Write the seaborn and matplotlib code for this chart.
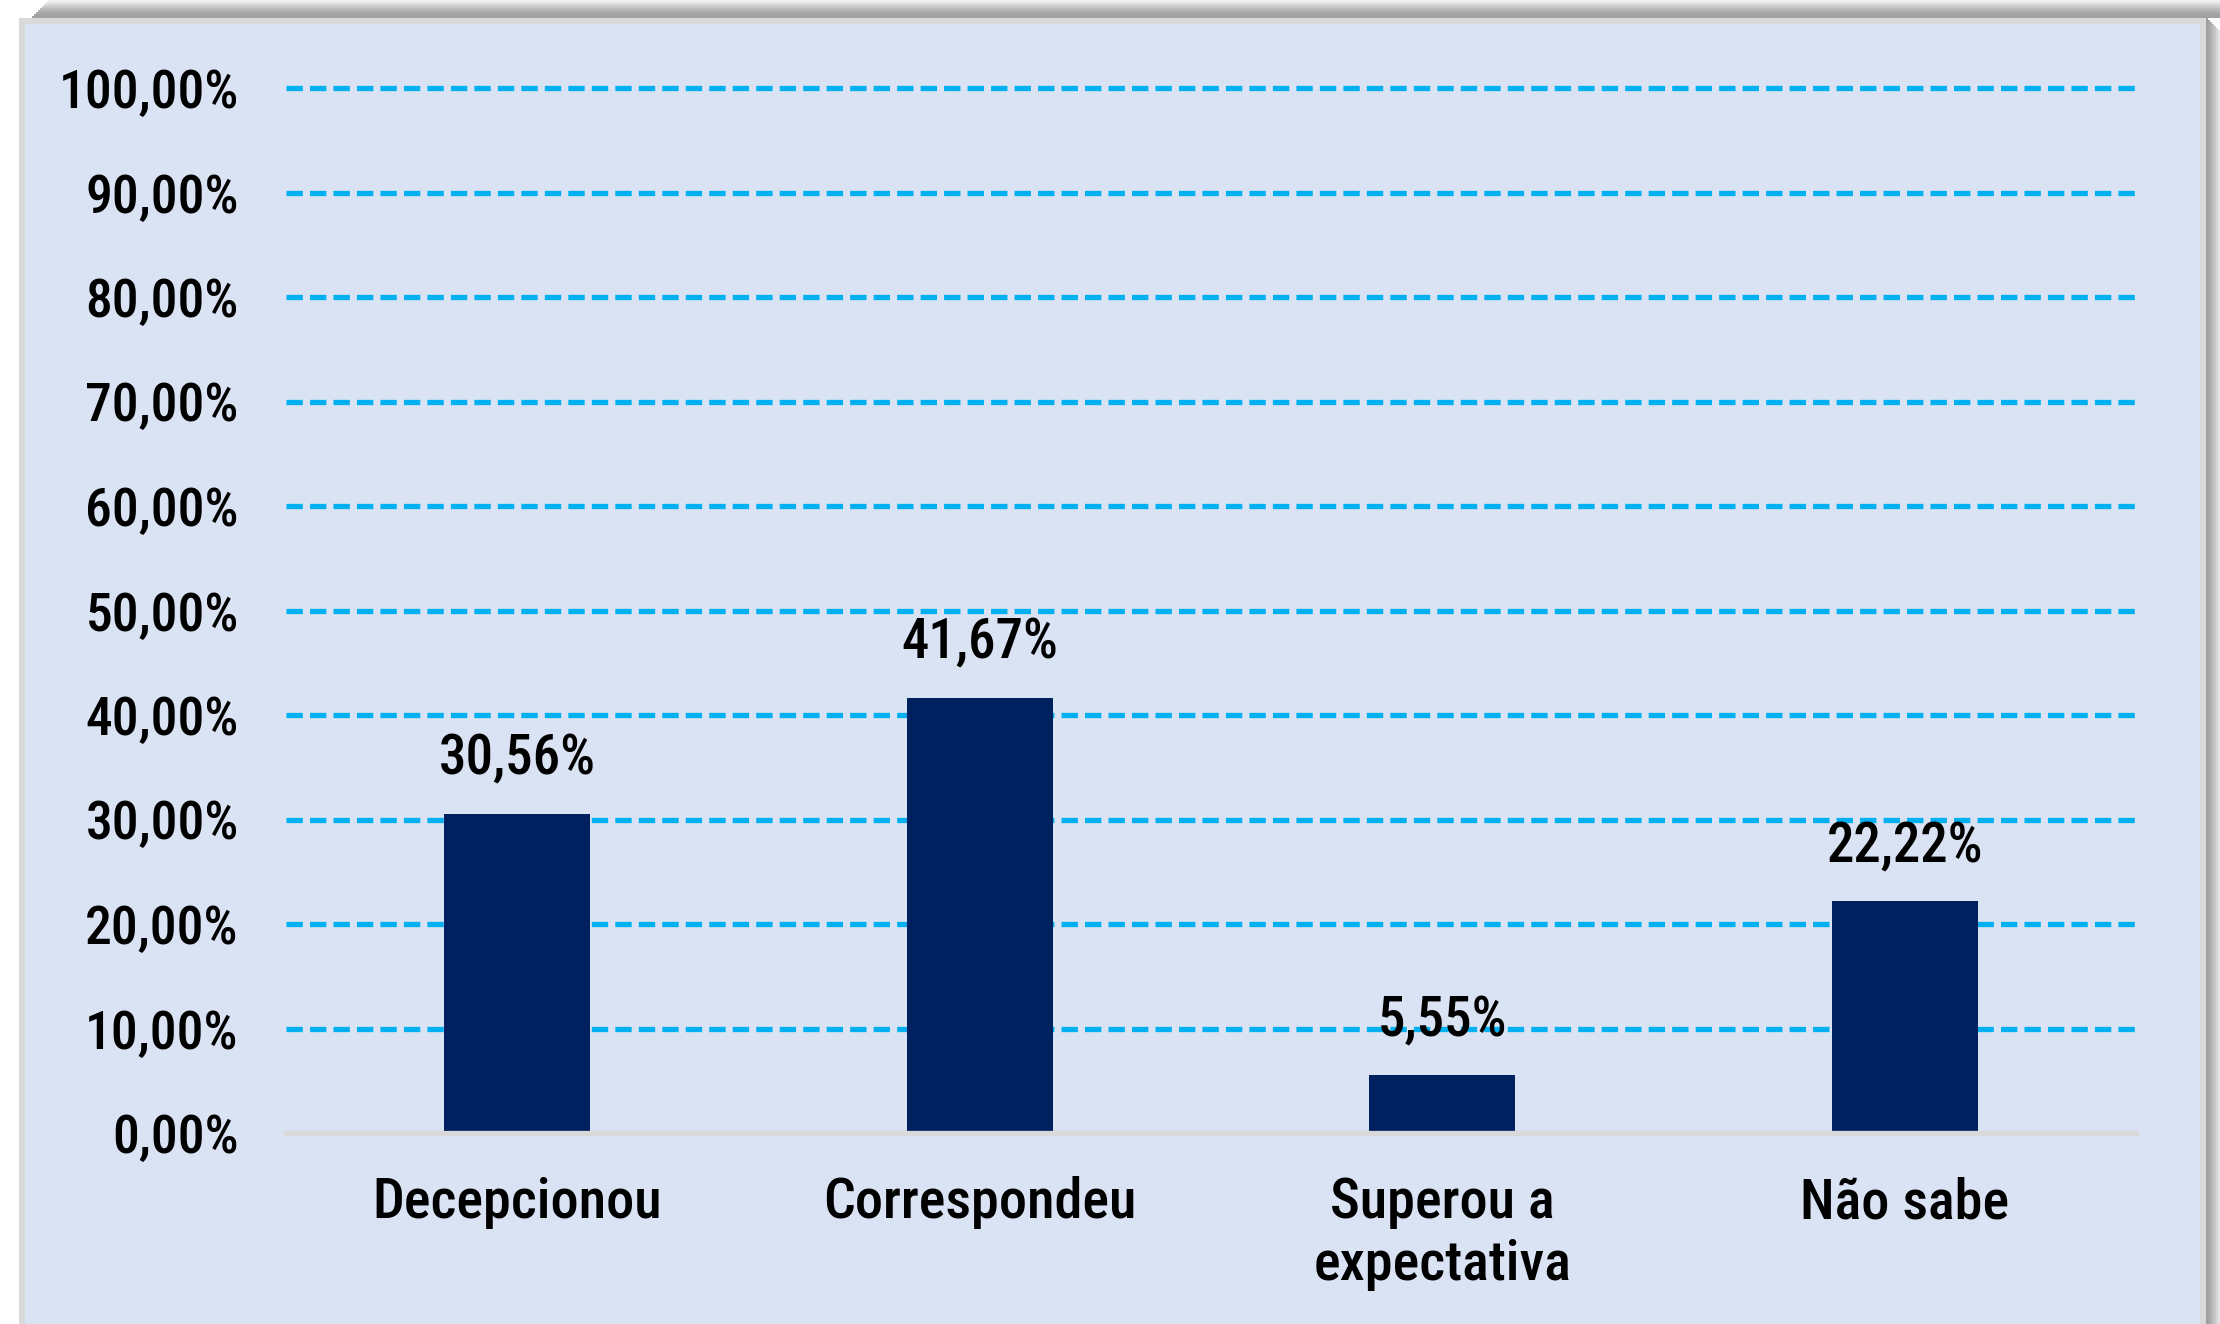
import numpy as np
import pandas as pd
import matplotlib
matplotlib.use("Agg")
import matplotlib.pyplot as plt
from matplotlib.patches import Rectangle
from matplotlib import font_manager as fm
import seaborn as sns

categories = ["Decepcionou", "Correspondeu", "Superou a\nexpectativa", "Não sabe"]
values = [30.56, 41.67, 5.55, 22.22]
value_labels = ["30,56%", "41,67%", "5,55%", "22,22%"]
ytick_values = [0, 10, 20, 30, 40, 50, 60, 70, 80, 90, 100]
ytick_labels = ["0,00%", "10,00%", "20,00%", "30,00%", "40,00%", "50,00%",
                "60,00%", "70,00%", "80,00%", "90,00%", "100,00%"]

sns.set_theme(style="white")

# pick a narrow font when one is installed, otherwise a medium-weight sans
entries = fm.fontManager.ttflist
names = {f.name for f in entries}
family, weight = None, "normal"
for cand in ["Liberation Sans Narrow", "Arial Narrow", "Roboto Condensed",
             "Open Sans Condensed", "Noto Sans Condensed"]:
    if cand in names:
        family = cand
        break
if family is None:
    for f in entries:
        if ("Narrow" in f.name or "Condensed" in f.name) and "Sans" in f.name:
            family = f.name
            break
narrow = family is not None
if narrow:
    weights = {f.weight for f in entries if f.name == family}
    if 500 in weights or "medium" in weights:
        weight = 500
    else:
        weight = "normal"
else:
    roboto_med = [f for f in entries if f.name == "Roboto" and f.weight in (500, "medium")]
    if roboto_med:
        family, weight = "Roboto", "medium"
    else:
        family, weight = "Liberation Sans", "bold"

plt.rcParams["font.family"] = [family, "DejaVu Sans"]
plt.rcParams["font.weight"] = weight

if narrow:
    fs_val, fs_cat, fs_tick = 39.5, 40.5, 38.5
else:
    fs_val, fs_cat, fs_tick = 35, 35, 33

W, H = 2220, 1324
DPI = 100
fig = plt.figure(figsize=(W / DPI, H / DPI), dpi=DPI)
fig.patch.set_facecolor("white")

def fx(px):
    return px / W

def fy(py):  # py measured from top
    return 1 - py / H

# shadow (top and right), drawn as gradient strips
top_grays = ["#f0f0f0", "#e4e4e4", "#d6d6d6", "#c8c8c8", "#bbbbbb", "#b0b0b0", "#a8a8a8", "#a3a3a3", "#a0a0a0"]
n = len(top_grays)
for i, c in enumerate(top_grays):
    y0 = i * 2
    fig.add_artist(Rectangle((fx(30 + (n - i) * 2), fy(y0 + 2)), fx(2220 - 30 - (n - i) * 2), 2 / H,
                             transform=fig.transFigure, facecolor=c, edgecolor="none", zorder=-3))
right_grays = ["#a0a0a0", "#a6a6a6", "#b0b0b0", "#bcbcbc", "#c8c8c8", "#d6d6d6", "#e4e4e4"]
for i, c in enumerate(right_grays):
    fig.add_artist(Rectangle((fx(2206 + i * 2), 0), 2 / W, fy(18 + i * 2),
                             transform=fig.transFigure, facecolor=c, edgecolor="none", zorder=-3))

# panel
fig.add_artist(Rectangle((fx(22), fy(1340)), fx(2203 - 22), (1340 - 21) / H,
                         transform=fig.transFigure, facecolor="#DAE3F3", edgecolor="#D9D9D9",
                         linewidth=4.3, zorder=-2))

# axes: 0% at y=1133, 100% at y=88 (pixels from top)
y0_px, y100_px = 1133, 88
per = (y0_px - y100_px) / 100.0
top_val = 102
ax_top_px = y0_px - top_val * per
ax = fig.add_axes([fx(286), fy(y0_px), fx(2136 - 286), (y0_px - ax_top_px) / H])
ax.set_facecolor("none")

df = pd.DataFrame({"cat": categories, "val": values})
sns.barplot(data=df, x="cat", y="val", color="#002060", saturation=1, width=0.316,
            linewidth=0, ax=ax, zorder=2)

ax.set_xlim(-0.5, 3.5)
ax.set_ylim(0, top_val)

ax.hlines(ytick_values[1:], -0.5, 3.5, colors="#00B0F0", linewidth=3.8,
          linestyles=[(0, (3.1, 1.35))], zorder=1)

ax.set_yticks(ytick_values)
ax.set_yticklabels(ytick_labels, fontsize=fs_tick, fontweight=weight)
ax.set_xticks(range(len(categories)))
ax.set_xticklabels(categories, fontsize=fs_cat, fontweight=weight, linespacing=1.22)
ax.tick_params(axis="y", length=0, pad=34, colors="black")
ax.tick_params(axis="x", length=0, pad=31, colors="black")

ax.set_xlabel("")
ax.set_ylabel("")
for s in ["left", "right", "top"]:
    ax.spines[s].set_visible(False)
ax.spines["bottom"].set_color("#D9D9D9")
ax.spines["bottom"].set_linewidth(3.8)
ax.spines["bottom"].set_zorder(3)

ax.bar_label(ax.containers[0], labels=value_labels, padding=20, fontsize=fs_val,
             fontweight=weight, color="black", zorder=4)

fig.savefig("out.png", dpi=DPI, facecolor="white")
